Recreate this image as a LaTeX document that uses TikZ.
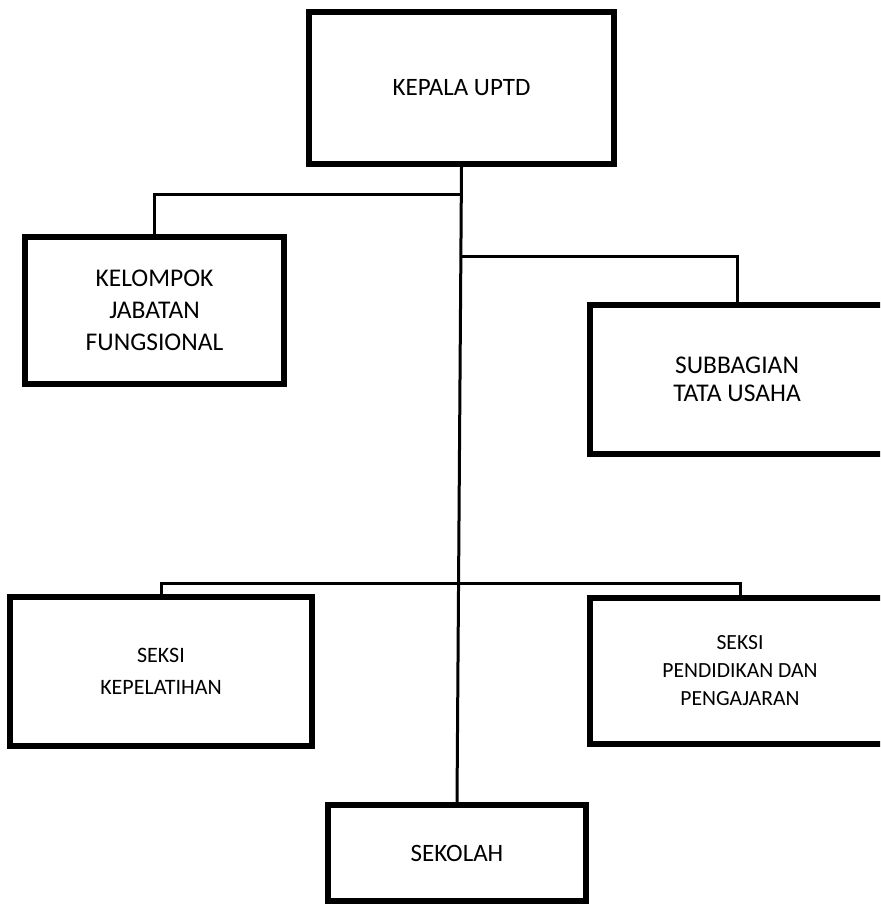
\documentclass[tikz,border=0pt]{standalone}
\usepackage{fontspec}
\setmainfont{Carlito}
\begin{document}
\begin{tikzpicture}[x=1pt,y=-1pt,
  box/.style={draw=black,line width=5.5pt,rectangle,align=center,inner sep=0pt,fill=white},
  conn/.style={draw=black,line width=3pt},
  bigtxt/.style={font=\fontsize{25}{32}\selectfont}]
\clip (0,0) rectangle (880,904);
\fill[white] (0,0) rectangle (880,904);
\node[box,font=\fontsize{25}{32}\selectfont,minimum width=305pt,minimum height=152pt] (kepala) at (461.5,88) {KEPALA UPTD};
\node[box,font=\fontsize{25.5}{32}\selectfont,minimum width=259pt,minimum height=147pt] (kelompok) at (154.5,310.5) {KELOMPOK\\JABATAN\\FUNGSIONAL};
\node[box,font=\fontsize{25.5}{28}\selectfont,minimum width=294pt,minimum height=149pt] (subbag) at (737,379.5) {SUBBAGIAN\\TATA USAHA};
\node[box,font=\fontsize{22}{32}\selectfont,minimum width=302pt,minimum height=149pt] (seksik) at (161,671.5) {SEKSI\\KEPELATIHAN};
\node[box,font=\fontsize{21.6}{28}\selectfont,minimum width=300pt,minimum height=146pt] (seksip) at (740,671) {SEKSI\\PENDIDIKAN DAN\\PENGAJARAN};
\node[box,font=\fontsize{25}{32}\selectfont,minimum width=258pt,minimum height=96pt] (sekolah) at (457,853) {SEKOLAH};
\coordinate (j1) at (461,194);
\coordinate (j2) at (460,256);
\coordinate (j3) at (458.5,583);
\draw[conn] (kepala.south) -- (sekolah.north);
\draw[conn] (j1) -| (kelompok.north);
\draw[conn] (j2) -| (subbag.north);
\draw[conn] (seksik.north) |- (j3) -| (seksip.north);
\end{tikzpicture}
\end{document}
